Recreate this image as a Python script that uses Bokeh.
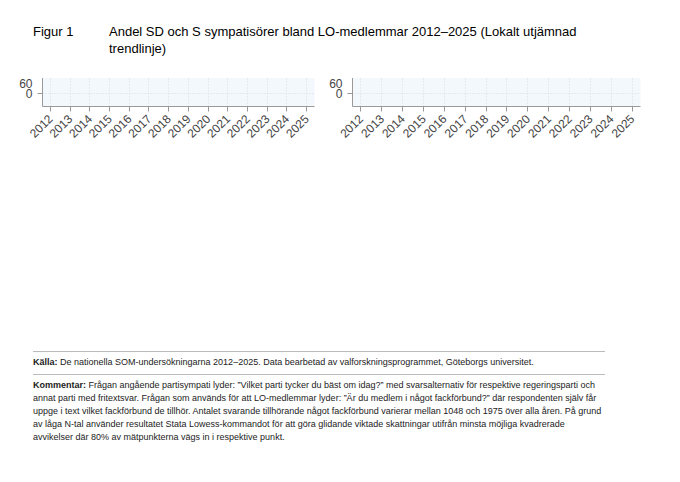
from bokeh.plotting import figure
from bokeh.models import Div, Legend, LegendItem, FixedTicker
from bokeh.layouts import column, row
from bokeh.embed import file_html
from bokeh.resources import INLINE
import math

years = list(range(2012, 2026))
unions = ["Byggnads", "Handels", "Kommunal", "Transport", "Metall", "SEKO"]
colors = ["#6aaedc", "#1f5fa0", "#f5c938", "#dc5b6e", "#5bd15f", "#cccccc"]

sd_byggnads = [15.5, 19.5, 22.5, 25, 27.5, 29.8, 30.5, 30.7, 30.7, 30.2, 28.8, 27, 25, 23.3]
sd_handels = [12.6, 13.4, 14.1, 14.6, 15, 15.2, 15.6, 16.2, 16.7, 17, 17.1, 17, 16.3, 14.6]
sd_kommunal = [6.7, 10.3, 12.8, 14.3, 15.7, 16.5, 16.8, 16.9, 17, 17.6, 18, 18.4, 19, 19.9]
sd_transport = [14.8, 18.8, 22.5, 26, 29.5, 31.6, 31.6, 30.3, 28, 26, 25.6, 26.8, 30.5, 38.7]
sd_metall = [11.8, 17, 20.3, 22.5, 24, 25.4, 26.1, 26.3, 26.8, 27.4, 28.1, 28.6, 29, 29.6]
sd_seko = [8.7, 13.5, 17, 18.8, 19.8, 19.9, 19.6, 19, 19, 19.8, 21, 22.5, 24, 25]

s_byggnads = [57, 51.5, 48, 45.5, 43.5, 42, 41.5, 41.5, 41, 40.8, 41, 41.3, 41, 40]
s_handels = [54.5, 51, 48, 46.5, 44.5, 42.8, 42, 41.8, 41.5, 41.5, 42, 43, 44.3, 43.5]
s_kommunal = [56, 51, 48.5, 46.5, 44.5, 43, 42.5, 42.8, 43, 43.5, 44.3, 45.3, 46, 45.8]
s_transport = [50, 44.5, 40.5, 37.5, 35, 33.6, 33.6, 35, 36.8, 38.3, 39, 39, 37.5, 32]
s_metall = [57.5, 54, 51.5, 49.5, 47, 44.5, 43, 42.3, 41.3, 41, 41, 41.5, 42.3, 42.3]
s_seko = [45.5, 45, 44.3, 43.5, 42.7, 42, 41.8, 41.5, 41.3, 41.5, 42, 42.5, 43.5, 44]

FONT = "Liberation Sans"


def panel(title, series, left_pad):
    p = figure(width=322, height=262, output_backend="svg", toolbar_location=None,
               x_range=(2011.6, 2025.4), y_range=(-1, 62), title=title,
               min_border_left=left_pad, min_border_right=8, min_border_top=4)
    p.title.align = "center"
    p.title.text_font = FONT
    p.title.text_font_size = "11pt"
    p.title.text_font_style = "normal"
    p.background_fill_color = "#f3f8fd"
    p.border_fill_color = "white"
    p.outline_line_color = None
    p.xaxis.ticker = FixedTicker(ticks=years)
    p.yaxis.ticker = FixedTicker(ticks=[0, 10, 20, 30, 40, 50, 60])
    p.xaxis.major_label_orientation = math.pi / 4
    for ax in (p.xaxis, p.yaxis):
        ax.major_label_text_font = FONT
        ax.major_label_text_font_size = "9pt"
        ax.axis_line_color = "#999999"
        ax.major_tick_line_color = "#999999"
        ax.minor_tick_line_color = None
        ax.major_tick_in = 0
        ax.major_tick_out = 5
    p.grid.grid_line_color = "#d5dde6"
    p.grid.grid_line_dash = "1 2"
    items = []
    for name, col, ys in zip(unions, colors, series):
        r = p.line(years, ys, line_color=col, line_width=2.2)
        items.append(LegendItem(label=name, renderers=[r]))
    for chunk, mt in ((items[:3], 6), (items[3:], 0)):
        leg = Legend(items=chunk, orientation="horizontal", location="center",
                     border_line_color=None, label_text_font=FONT,
                     label_text_font_size="9pt", glyph_width=24, label_width=60,
                     label_height=12, glyph_height=10, spacing=4, padding=0,
                     margin=mt)
        p.add_layout(leg, "below")
    return p


p1 = panel("Sverigedemokraterna",
           [sd_byggnads, sd_handels, sd_kommunal, sd_transport, sd_metall, sd_seko], 42)
p2 = panel("Socialdemokraterna",
           [s_byggnads, s_handels, s_kommunal, s_transport, s_metall, s_seko], 20)

head = Div(width=664, height=62, text=(
    "<div style='font-family:Liberation Sans;font-size:13px;display:flex;padding-top:18px'>"
    "<div style='width:104px;padding-left:28px'>Figur 1</div>"
    "<div style='width:480px;line-height:17px'>Andel SD och S sympatisörer bland LO-medlemmar 2012–2025 "
    "(Lokalt utjämnad trendlinje)</div></div>"))

foot = Div(width=664, height=110, text=(
    "<div style='font-family:Liberation Sans Narrow, Liberation Sans;font-size:9px;line-height:13px;"
    "padding-left:28px;width:600px;color:#222'>"
    "<div style='border-top:1px solid #bbb;padding-top:4px;margin-bottom:5px'>"
    "<b>Källa:</b> De nationella SOM-undersökningarna 2012–2025. Data bearbetad av valforskningsprogrammet, Göteborgs universitet.</div>"
    "<div style='border-top:1px solid #bbb;padding-top:4px'>"
    "<b>Kommentar:</b> Frågan angående partisympati lyder: ”Vilket parti tycker du bäst om idag?” med svarsalternativ för respektive "
    "regeringsparti och annat parti med fritextsvar. Frågan som används för att LO-medlemmar lyder: ”Är du medlem i något fackförbund?” "
    "där respondenten själv får uppge i text vilket fackförbund de tillhör. Antalet svarande tillhörande något fackförbund varierar "
    "mellan 1048 och 1975 över alla åren. På grund av låga N-tal använder resultatet Stata Lowess-kommandot för att göra glidande "
    "viktade skattningar utifrån minsta möjliga kvadrerade avvikelser där 80% av mätpunkterna vägs in i respektive punkt.</div></div>"))

layout = column(head, row(p1, p2, spacing=4), foot, spacing=6)
open("out.html", "w").write(file_html(layout, INLINE))
